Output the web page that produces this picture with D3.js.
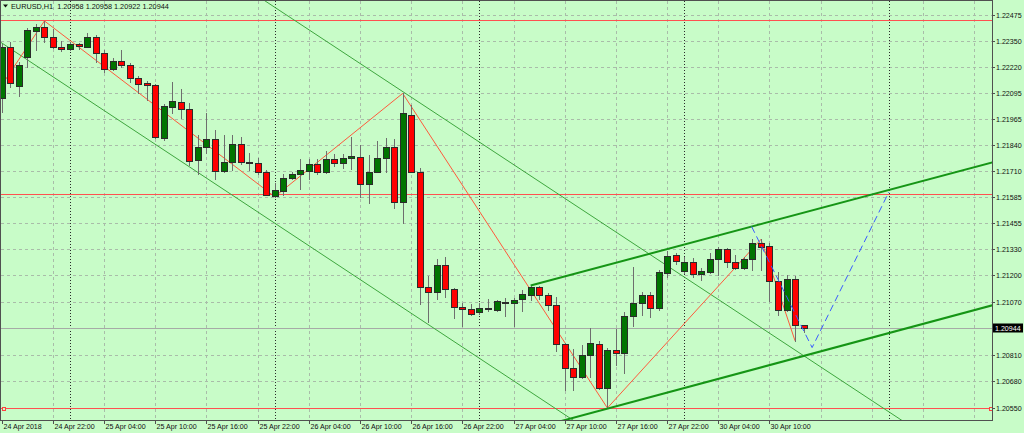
<!DOCTYPE html>
<html><head><meta charset="utf-8">
<script src="https://cdn.jsdelivr.net/npm/d3@7"></script>
<style>html,body{margin:0;padding:0;background:#c8fcc8;overflow:hidden}svg{display:block}</style>
</head><body><svg id="c" width="1024" height="433"></svg>
<script>
// ---------------- data ----------------
const titleText = "EURUSD,H1  1.20958 1.20958 1.20922 1.20944";
const opens = [1.22068,1.22318,1.22127,1.22269,1.22397,1.22416,1.22367,1.22320,1.22307,1.22331,
1.22320,1.22369,1.22287,1.22209,1.22251,1.22230,1.22165,1.22140,1.22131,1.21871,
1.22024,1.22049,1.22014,1.21765,1.21827,1.21867,1.21712,1.21756,1.21841,1.21756,
1.21748,1.21704,1.21590,1.21614,1.21678,1.21696,1.21712,1.21745,1.21707,1.21768,
1.21748,1.21773,1.21781,1.21645,1.21707,1.21773,1.21827,1.21560,1.21985,1.21707,
1.21141,1.21119,1.21249,1.21131,1.21043,1.21033,1.21021,1.21039,1.21030,1.21069,
1.21065,1.21082,1.21104,1.21141,1.21103,1.21054,1.20863,1.20745,1.20703,1.20811,
1.20863,1.20649,1.20834,1.20817,1.21000,1.21065,1.21103,1.21041,1.21209,1.21299,
1.21221,1.21266,1.21204,1.21214,1.21278,1.21327,1.21263,1.21237,1.21279,1.21356,
1.21343,1.21173,1.21030,1.21181,1.20958];
const highs = [1.22333,1.22343,1.22245,1.22411,1.22431,1.22446,1.22406,1.22348,1.22343,1.22338,
1.22387,1.22377,1.22304,1.22264,1.22304,1.22240,1.22176,1.22152,1.22137,1.22039,
1.22148,1.22111,1.22044,1.21887,1.21993,1.21912,1.21887,1.21887,1.21876,1.21797,
1.21773,1.21716,1.21650,1.21696,1.21707,1.21768,1.21768,1.21768,1.21809,1.21794,
1.21794,1.21876,1.21838,1.21789,1.21858,1.21871,1.21866,1.22091,1.22034,1.21727,
1.21196,1.21281,1.21291,1.21137,1.21062,1.21059,1.21062,1.21082,1.21078,1.21090,
1.21090,1.21128,1.21152,1.21147,1.21114,1.21095,1.20868,1.20837,1.20861,1.20940,
1.20879,1.20843,1.20935,1.21020,1.21242,1.21119,1.21119,1.21226,1.21320,1.21310,
1.21291,1.21284,1.21235,1.21310,1.21337,1.21333,1.21298,1.21289,1.21376,1.21376,
1.21358,1.21217,1.21201,1.21196,1.20958];
const lows = [1.22000,1.22122,1.22078,1.22220,1.22304,1.22343,1.22313,1.22299,1.22304,1.22310,
1.22318,1.22245,1.22197,1.22206,1.22222,1.22148,1.22093,1.22059,1.21872,1.21863,
1.21996,1.21970,1.21740,1.21696,1.21797,1.21670,1.21707,1.21716,1.21745,1.21716,
1.21696,1.21591,1.21585,1.21593,1.21670,1.21622,1.21670,1.21696,1.21702,1.21735,
1.21724,1.21719,1.21582,1.21552,1.21706,1.21707,1.21531,1.21456,1.21706,1.21059,
1.20972,1.21082,1.21095,1.20989,1.20953,1.21005,1.21010,1.21026,1.21025,1.21000,
1.20953,1.21026,1.21078,1.21083,1.21030,1.20830,1.20638,1.20638,1.20699,1.20700,
1.20642,1.20550,1.20760,1.20719,1.20951,1.21005,1.20994,1.21030,1.21190,1.21255,
1.21209,1.21193,1.21177,1.21210,1.21201,1.21242,1.21232,1.21230,1.21228,1.21226,
1.21075,1.21005,1.21025,1.20879,1.20922];
const closes = [1.22318,1.22142,1.22230,1.22402,1.22416,1.22367,1.22318,1.22310,1.22333,1.22322,
1.22369,1.22287,1.22209,1.22251,1.22230,1.22165,1.22137,1.22131,1.21876,1.22029,
1.22054,1.22014,1.21761,1.21827,1.21867,1.21712,1.21756,1.21841,1.21756,1.21748,
1.21704,1.21593,1.21618,1.21678,1.21694,1.21716,1.21743,1.21707,1.21768,1.21748,
1.21773,1.21784,1.21645,1.21707,1.21773,1.21827,1.21560,1.21993,1.21707,1.21144,
1.21119,1.21249,1.21132,1.21043,1.21033,1.21010,1.21038,1.21033,1.21072,1.21064,
1.21079,1.21106,1.21144,1.21103,1.21054,1.20863,1.20744,1.20703,1.20811,1.20866,
1.20646,1.20834,1.20817,1.21000,1.21065,1.21103,1.21041,1.21217,1.21296,1.21271,
1.21266,1.21204,1.21221,1.21278,1.21327,1.21263,1.21237,1.21279,1.21356,1.21340,
1.21173,1.21030,1.21181,1.20958,1.20944];

const priceTicks = [1.22475,1.22350,1.22220,1.22095,1.21965,1.21840,1.21710,1.21585,1.21455,1.21330,1.21200,1.21070,1.20810,1.20680,1.20550];
const timeTickBars = [0,6,12,18,24,30,36,42,48,54,60,66,72,78,84,90];
const timeTickLabels = ["24 Apr 2018","24 Apr 22:00","25 Apr 04:00","25 Apr 10:00","25 Apr 16:00","25 Apr 22:00","26 Apr 04:00","26 Apr 10:00","26 Apr 16:00","26 Apr 22:00","27 Apr 04:00","27 Apr 10:00","27 Apr 16:00","27 Apr 22:00","30 Apr 04:00","30 Apr 10:00"];
const extraGridBars = [96,102,108,114];
const daySeparatorBars = [8,32,56,80,104];

const levelPrices = [1.22451,1.21598,1.20550];
const bidPrice = 1.20944;

const zigzagBars = [-1,5,32,47,71,89,93];
const zigzagPrices = [1.22068,1.22446,1.21585,1.22091,1.20550,1.21376,1.20879];

const channelUpperBars = [47,89];
const channelUpperPrices = [1.22100,1.20944];
const channelLowerBars = [0,60];
const channelLowerPrices = [1.22338,1.20683];

const trendUpperBars = [62,104];
const trendUpperPrices = [1.21150,1.21618];
const trendLowerBars = [62,104];
const trendLowerPrices = [1.20446,1.20917];

const projectionBars = [87.9,95,104];
const projectionPrices = [1.21439,1.20846,1.21608];

// ---------------- layout ----------------
const W = 1024, H = 433;
const plotL = 1, plotR = 992, plotT = 1, plotB = 420;
const x = d3.scaleLinear().domain([0, 104]).range([1.76, 888.9]);
const y = d3.scaleLinear().domain([1.20550, 1.22475]).range([408, 15]);
const barMax = x.invert(plotR);

const svg = d3.select("#c");
svg.append("rect").attr("width", W).attr("height", H).attr("fill", "#c8fcc8");
svg.append("defs").append("clipPath").attr("id", "clip")
  .append("rect").attr("x", plotL).attr("y", plotT).attr("width", plotR - plotL).attr("height", plotB - plotT);

const plot = svg.append("g").attr("clip-path", "url(#clip)");
const FONT = "'Liberation Sans', Arial, sans-serif";
const FS = 7.1;

// grid
const gridColor = "#a9bca9";
priceTicks.forEach(p => {
  const yy = Math.round(y(p)) + 0.5;
  plot.append("line").attr("x1", plotL).attr("x2", plotR).attr("y1", yy).attr("y2", yy)
    .attr("stroke", gridColor).attr("stroke-dasharray", "3,3");
});
timeTickBars.slice(1).concat(extraGridBars).forEach(b => {
  const xx = Math.round(x(b)) + 0.5;
  plot.append("line").attr("x1", xx).attr("x2", xx).attr("y1", plotT).attr("y2", plotB)
    .attr("stroke", gridColor).attr("stroke-dasharray", "3,3");
});
// day separators
daySeparatorBars.forEach(b => {
  const xx = Math.round(x(b)) + 0.5;
  plot.append("line").attr("x1", xx).attr("x2", xx).attr("y1", plotT).attr("y2", plotB)
    .attr("stroke", "#2a2a2a").attr("stroke-dasharray", "1,2");
});

// bid line
plot.append("line").attr("x1", plotL).attr("x2", plotR)
  .attr("y1", Math.round(y(bidPrice)) + 0.5).attr("y2", Math.round(y(bidPrice)) + 0.5)
  .attr("stroke", "#a6aaa6");

// horizontal levels
levelPrices.forEach(p => {
  const yy = Math.round(y(p)) + 0.5;
  plot.append("line").attr("x1", plotL).attr("x2", plotR).attr("y1", yy).attr("y2", yy)
    .attr("stroke", "#ff5050");
});

// helper: extend a two-point line in data space
function lineAt(bars, prices, b) {
  const s = (prices[1] - prices[0]) / (bars[1] - bars[0]);
  return prices[0] + s * (b - bars[0]);
}
const line = d3.line().x(d => x(d[0])).y(d => y(d[1]));

// thin descending channel
[[channelUpperBars, channelUpperPrices], [channelLowerBars, channelLowerPrices]].forEach(([bs, ps]) => {
  const b0 = -2, b1 = barMax + 2;
  plot.append("path").attr("d", line([[b0, lineAt(bs, ps, b0)], [b1, lineAt(bs, ps, b1)]]))
    .attr("fill", "none").attr("stroke", "#3ea63e").attr("stroke-width", 1);
});

// zigzag
plot.append("path").attr("d", line(zigzagBars.map((b, i) => [b, zigzagPrices[i]])))
  .attr("fill", "none").attr("stroke", "#ff5a3c").attr("stroke-width", 1);

// candles
const candles = plot.append("g");
opens.forEach((o, i) => {
  const c = closes[i], h = highs[i], l = lows[i];
  const cx = Math.round(x(i));
  candles.append("line").attr("x1", cx + 0.5).attr("x2", cx + 0.5)
    .attr("y1", Math.round(y(h))).attr("y2", Math.round(y(l)) + 1)
    .attr("stroke", "#6e6e6e");
  const top = Math.round(y(Math.max(o, c))), bot = Math.round(y(Math.min(o, c)));
  candles.append("rect").attr("x", cx - 2.5).attr("y", top + 0.5)
    .attr("width", 6).attr("height", Math.max(1, bot - top))
    .attr("fill", c >= o ? "#007400" : "#ff0000")
    .attr("stroke", "#2b2b2b").attr("stroke-width", 1);
});

// thick ascending channel
[[trendUpperBars, trendUpperPrices], [trendLowerBars, trendLowerPrices]].forEach(([bs, ps]) => {
  const b0 = bs[0], b1 = barMax + 1;
  plot.append("path").attr("d", line([[b0, lineAt(bs, ps, b0)], [b1, lineAt(bs, ps, b1)]]))
    .attr("fill", "none").attr("stroke", "#159515").attr("stroke-width", 2);
});

// projection
plot.append("path").attr("d", line(projectionBars.map((b, i) => [b, projectionPrices[i]])))
  .attr("fill", "none").attr("stroke", "#3a5cff").attr("stroke-width", 1).attr("stroke-dasharray", "7,4");

// markers on bottom level
[plotL + 1, plotR - 3].forEach(xx => {
  svg.append("rect").attr("x", xx + 0.5).attr("y", Math.round(y(levelPrices[2])) - 1 + 0.5)
    .attr("width", 3).attr("height", 3).attr("fill", "#c8fcc8").attr("stroke", "#ff4040");
});

// frame
svg.append("rect").attr("x", plotL - 0.5).attr("y", plotT - 0.5)
  .attr("width", plotR - plotL + 1).attr("height", plotB - plotT + 1)
  .attr("fill", "none").attr("stroke", "#505050");

// price axis
priceTicks.forEach(p => {
  const yy = Math.round(y(p)) + 0.5;
  svg.append("line").attr("x1", plotR).attr("x2", plotR + 3).attr("y1", yy).attr("y2", yy).attr("stroke", "#505050");
  svg.append("text").attr("x", plotR + 4).attr("y", yy).attr("dy", "0.35em")
    .attr("font-family", FONT).attr("font-size", FS).attr("fill", "#101010").text(d3.format(".5f")(p));
});
// bid label
{
  const yy = Math.round(y(bidPrice)) + 0.5;
  svg.append("rect").attr("x", plotR + 1).attr("y", yy - 5).attr("width", 30).attr("height", 9).attr("fill", "#000");
  svg.append("text").attr("x", plotR + 3).attr("y", yy).attr("dy", "0.35em")
    .attr("font-family", FONT).attr("font-size", FS).attr("fill", "#ffffff").text(d3.format(".5f")(bidPrice));
}

// time axis
timeTickBars.forEach((b, i) => {
  const xx = Math.max(plotL, Math.round(x(b))) + 0.5;
  svg.append("line").attr("x1", xx).attr("x2", xx).attr("y1", plotB).attr("y2", plotB + 4).attr("stroke", "#505050");
  svg.append("text").attr("x", xx + 1).attr("y", 428.5)
    .attr("font-family", FONT).attr("font-size", FS).attr("fill", "#101010").text(timeTickLabels[i]);
});

// title
svg.append("path").attr("d", "M3,4.5 L8,4.5 L5.5,7.5 Z").attr("fill", "#101010");
svg.append("text").attr("x", 11).attr("y", 8.5)
  .attr("font-family", FONT).attr("font-size", FS + 0.2).attr("fill", "#101010")
  .style("white-space", "pre").text(titleText);
</script>
</body></html>
